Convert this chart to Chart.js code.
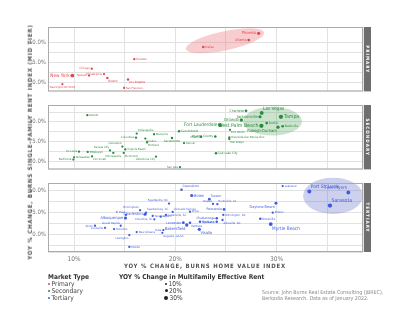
<!DOCTYPE html>
<html>
<head>
<meta charset="utf-8">
<script src="https://cdn.jsdelivr.net/npm/chart.js@4.4.1/dist/chart.umd.min.js"></script>
<style>
  body { margin: 0; width: 400px; height: 323px; background: #fff; position: relative; overflow: hidden;
         font-family: "Liberation Sans Narrow", "DejaVu Sans Condensed", "Roboto", sans-serif; }
  canvas { position: absolute; left: 0; }
  .t { position: absolute; white-space: nowrap; line-height: 1; }
  .axis-title { font-weight: bold; font-size: 6px; letter-spacing: 0.8px; color: #555; }
  .lg-head { font-weight: bold; font-size: 6.6px; color: #333; }
  .lg-item { font-size: 6.6px; color: #444; }
  .dot { display: inline-block; border-radius: 50%; vertical-align: middle; margin-right: 1.5px; position: relative; top: -0.5px; }
  .src { font-size: 5.3px; color: #8a8a8a; }
</style>
</head>
<body>
<canvas id="primary" width="375" height="78" style="top:19px"></canvas>
<canvas id="secondary" width="375" height="78" style="top:97px"></canvas>
<canvas id="tertiary" width="375" height="91" style="top:175px"></canvas>

<div class="t axis-title" style="left:30px;top:142px;transform:translate(-50%,-50%) rotate(-90deg)">YOY % CHANGE, BURNS SINGLE-FAMILY RENT INDEX (MID TIER)</div>
<div class="t axis-title" style="left:205px;top:266px;transform:translate(-50%,-50%)">YOY % CHANGE, BURNS HOME VALUE INDEX</div>

<div class="t lg-head" style="left:48px;top:274px">Market Type</div>
<div class="t lg-item" style="left:48px;top:281px"><span class="dot" style="width:2px;height:2px;background:#e4454c"></span>Primary</div>
<div class="t lg-item" style="left:48px;top:288px"><span class="dot" style="width:2px;height:2px;background:#2b8a3e"></span>Secondary</div>
<div class="t lg-item" style="left:48px;top:295px"><span class="dot" style="width:2px;height:2px;background:#3e5be0"></span>Tertiary</div>

<div class="t lg-head" style="left:119px;top:274px">YOY % Change in Multifamily Effective Rent</div>
<div class="t lg-item" style="left:165px;top:281px"><span class="dot" style="width:2px;height:2px;background:#222"></span>10%</div>
<div class="t lg-item" style="left:164.5px;top:288px"><span class="dot" style="width:3px;height:3px;background:#222"></span>20%</div>
<div class="t lg-item" style="left:164px;top:295px"><span class="dot" style="width:4px;height:4px;background:#222"></span>30%</div>

<div class="t src" style="left:262px;top:290px">Source: John Burns Real Estate Consulting (JBREC),</div>
<div class="t src" style="left:262px;top:296px">Berkadia Research. Data as of January 2022.</div>

<script>
// Primary markets
const primaryNames = ["New York", "Chicago", "Philadelphia", "Newark", "Boston", "Los Angeles",
  "Washington DC Metro", "San Francisco", "Houston", "Dallas", "Atlanta", "Phoenix"];
const primaryHomeValue = [9.83, 11.75, 12.96, 11.48, 13.29, 15.33, 8.85, 14.94, 15.95, 22.76, 27.25, 28.23];
const primaryRent = [1.67, 3.4, 2.05, 1.67, 1.1, 0.71, -0.48, -1.43, 5.8, 8.88, 10.6, 12.3];
const primaryMultifamily = [24, 10, 10, 10, 11, 11, 8, 9, 10, 12, 15, 19];

// Secondary markets
const secondaryNames = ["Detroit", "Indianapolis", "Columbus", "Memphis", "Omaha", "Portland", "San Antonio",
  "Sacramento", "Denver", "Cleveland", "Virginia Beach", "Kansas City", "Richmond", "Minneapolis", "St. Louis",
  "Pittsburgh", "Milwaukee", "Baltimore", "Cincinnati", "Oklahoma City", "San Jose", "Fort Lauderdale", "Miami",
  "Orange County", "Fort Worth", "Riverside-San Bernardino", "San Diego", "Salt Lake City", "Charlotte",
  "Las Vegas", "Jacksonville", "Tampa", "Orlando", "West Palm Beach", "Austin", "Raleigh-Durham", "Nashville"];
const secondaryHomeValue = [11.31, 16.19, 16.12, 17.9, 17.04, 17.21, 20.37, 19.67, 20.86, 14.77, 15.06, 13.55,
  14.91, 13.88, 10.49, 11.35, 10.0, 9.93, 11.78, 18.09, 20.46, 24.41, 22.54, 23.95, 25.4, 25.33, 25.33, 24.02,
  26.98, 28.53, 28.36, 30.43, 26.52, 28.5, 29.02, 30.14, 30.6];
const secondaryRent = [11.7, 7.02, 5.98, 6.85, 5.74, 4.77, 7.63, 5.88, 4.6, 3.7, 2.98, 2.74, 2.1, 2.1, 2.42,
  2.35, 0.97, 0.41, 1.21, 1.14, -1.53, 9.2, 6.22, 6.3, 7.99, 6.05, 5.64, 2.0, 12.83, 12.28, 11.3, 11.3, 10.48,
  9.0, 9.69, 8.64, 8.89];
const secondaryMultifamily = [10, 10, 10, 10, 10, 10, 12, 11, 10, 10, 10, 10, 10, 10, 10, 10, 10, 10, 10, 10,
  10, 24, 12, 12, 10, 10, 10, 12, 14, 24, 18, 28, 20, 28, 13, 19, 13];

// Tertiary markets
const tertiaryNames = ["Lakeland", "Port St. Lucie", "Fort Myers", "Sarasota", "Myrtle Beach", "Daytona Beach",
  "Killeen", "Knoxville", "Tucson", "Huntsville, AL", "Naples", "Pensacola", "Wilmington, NC", "Chattanooga",
  "Spokane", "Asheville, NC", "Greensboro", "Boise", "Fayetteville, NC", "Birmingham", "El Paso",
  "Spartanburg, SC", "Colorado Springs", "Charleston", "Albuquerque", "Tacoma", "Columbia, SC", "Ogden",
  "Greenville, SC", "Provo", "Lancaster", "Bakersfield", "Ventura", "Modesto", "Visalia", "Tulsa",
  "Augusta, GA-SC", "New Orleans", "Lexington", "Mobile", "Grand Rapids", "Honolulu", "Louisville", "Akron"];
const tertiaryHomeValue = [30.6, 33.23, 37.08, 35.27, 29.42, 29.94, 29.62, 28.39, 23.36, 24.15, 23.72, 24.81,
  24.74, 24.09, 24.09, 24.66, 20.61, 21.62, 19.38, 16.52, 15.13, 17.11, 19.74, 17.01, 15.08, 17.77, 17.93,
  18.56, 19.08, 21.45, 20.79, 21.13, 21.45, 22.44, 22.37, 18.82, 18.72, 16.19, 15.46, 15.46, 14.61, 13.95,
  13.06, 12.07];
const tertiaryRent = [11.0, 9.77, 9.54, 6.56, 2.36, 7.11, 4.95, 3.58, 8.03, 6.88, 6.95, 5.69, 4.43, 3.67, 2.89,
  3.28, 10.16, 8.85, 7.02, 5.5, 4.43, 4.95, 5.11, 4.59, 3.74, 4.2, 3.44, 4.04, 4.43, 5.18, 2.66, 2.13, 2.66,
  2.89, 1.15, 0.99, 0.37, 0.53, -0.16, -2.84, 1.97, 1.22, 1.51, 1.97];
const tertiaryMultifamily = [10, 25, 24, 28, 24, 16, 10, 12, 14, 10, 10, 14, 10, 12, 12, 10, 12, 18, 10, 10,
  10, 10, 10, 18, 18, 10, 10, 10, 10, 10, 14, 20, 12, 12, 18, 10, 10, 10, 10, 10, 10, 10, 10, 10];

// label placement around each dot: r, l, tr, tl, br, bl, b
const primarySide = ["l", "l", "l", "l", "br", "br", "b", "r", "r", "r", "l", "l"];
const secondarySide = ["r", "tr", "l", "r", "br", "br", "r", "b", "r", "tl", "r", "tl", "br", "b", "l", "r", "r",
  "l", "br", "bl", "l", "l", "l", "l", "br", "r", "br", "r", "l", "tr", "l", "r", "l", "l", "r", "bl", "r"];
const tertiarySide = ["r", "tr", "tl", "tr", "br", "bl", "r", "r", "tr", "tr", "tl", "l", "r", "l", "l", "br",
  "tr", "r", "tl", "tl", "tl", "tr", "tr", "l", "l", "r", "l", "r", "r", "r", "l", "bl", "br", "r", "br", "l",
  "br", "r", "bl", "r", "tl", "r", "l", "l"];

const FONT = '"Liberation Sans Narrow", "DejaVu Sans Condensed", "Roboto", sans-serif';

function dotSize(mf) { return 0.6 + mf * 0.055; }
function labelSize(mf) { return 1.6 + mf * 0.13; }

function decor(cfg) {
  return {
    id: 'decor',
    beforeDatasetsDraw(chart) {
      const { ctx, scales: { x, y } } = chart;
      const e = cfg.ellipse;
      const cx = x.getPixelForValue(e.cx), cy = y.getPixelForValue(e.cy);
      const rx = Math.abs(x.getPixelForValue(e.cx + e.rx) - cx);
      const ry = Math.abs(y.getPixelForValue(e.cy + e.ry) - cy);
      ctx.save();
      ctx.fillStyle = cfg.fill;
      ctx.beginPath();
      ctx.ellipse(cx, cy, rx, ry, e.rot * Math.PI / 180, 0, Math.PI * 2);
      ctx.fill();
      ctx.restore();
    },
    afterDatasetsDraw(chart) {
      const ctx = chart.ctx;
      const meta = chart.getDatasetMeta(0);
      ctx.save();
      ctx.fillStyle = cfg.color;
      ctx.textBaseline = 'middle';
      meta.data.forEach((pt, i) => {
        const fs = labelSize(cfg.mf[i]);
        const g = dotSize(cfg.mf[i]) + 0.8;
        let tx = pt.x, ty = pt.y, align = 'left';
        switch (cfg.side[i]) {
          case 'r': tx += g; break;
          case 'l': tx -= g; align = 'right'; break;
          case 'tr': tx += g * 0.5; ty -= g + fs * 0.35; break;
          case 'tl': tx -= g * 0.5; ty -= g + fs * 0.35; align = 'right'; break;
          case 'br': tx += g * 0.5; ty += g + fs * 0.35; break;
          case 'bl': tx -= g * 0.5; ty += g + fs * 0.35; align = 'right'; break;
          case 'b': ty += g + fs * 0.5; align = 'center'; break;
        }
        ctx.font = fs.toFixed(2) + 'px ' + FONT;
        ctx.textAlign = align;
        ctx.fillText(cfg.names[i], tx, ty);
      });
      ctx.restore();
    },
    afterDraw(chart) {
      const { ctx, chartArea: a } = chart;
      ctx.save();
      // panel frame
      ctx.strokeStyle = '#ababab';
      ctx.lineWidth = 1;
      ctx.strokeRect(a.left + 0.5, a.top + 0.5, a.right - a.left - 1, a.bottom - a.top - 1);
      // facet strip
      ctx.fillStyle = '#6e6e6e';
      ctx.fillRect(a.right + 1, a.top, 7, a.bottom - a.top);
      ctx.translate(a.right + 4.5, (a.top + a.bottom) / 2);
      ctx.rotate(Math.PI / 2);
      ctx.fillStyle = '#fff';
      ctx.font = 'bold 4.6px ' + FONT;
      ctx.letterSpacing = '1px';
      ctx.textAlign = 'center';
      ctx.textBaseline = 'middle';
      ctx.fillText(cfg.strip, 0, 0);
      ctx.restore();
    }
  };
}

function buildPanel(id, cfg) {
  const grid = { color: '#e2e2e2', lineWidth: 1, drawTicks: false };
  new Chart(document.getElementById(id), {
    type: 'scatter',
    data: {
      datasets: [{
        data: cfg.hv.map((v, i) => ({ x: v, y: cfg.rent[i] })),
        backgroundColor: cfg.color,
        borderWidth: 0,
        pointRadius: c => dotSize(cfg.mf[c.dataIndex])
      }]
    },
    options: {
      responsive: false,
      animation: false,
      events: [],
      layout: { padding: { top: 8, right: 12, bottom: 2, left: 0 } },
      plugins: { legend: { display: false }, tooltip: { enabled: false } },
      scales: {
        x: {
          type: 'linear', min: 7.43, max: 38.53,
          grid: grid, border: { display: false },
          ticks: {
            display: cfg.showX, stepSize: 5, autoSkip: false, padding: 3, color: '#777',
            font: { size: 6.5, family: FONT },
            callback: v => Math.abs(v % 10) < 1e-6 ? v + '%' : ''
          },
          afterFit: s => { s.height = cfg.showX ? 12 : 0; }
        },
        y: {
          min: cfg.yMin, max: cfg.yMax,
          grid: grid, border: { display: false },
          ticks: {
            stepSize: 2.5, autoSkip: false, padding: 2, color: '#777',
            font: { size: 6, family: FONT },
            callback: v => Math.abs(v % 5) < 1e-6 ? v.toFixed(1) + '%' : ''
          },
          afterFit: s => { s.width = 48; }
        }
      }
    },
    plugins: [decor(cfg)]
  });
}

buildPanel('primary', {
  names: primaryNames, hv: primaryHomeValue, rent: primaryRent, mf: primaryMultifamily, side: primarySide,
  color: '#e4454c', fill: 'rgba(234,112,120,0.35)', strip: 'PRIMARY',
  ellipse: { cx: 24.9, cy: 10.43, rx: 3.95, ry: 2.4, rot: -12 },
  yMin: -2.3, yMax: 13.9, showX: false
});
buildPanel('secondary', {
  names: secondaryNames, hv: secondaryHomeValue, rent: secondaryRent, mf: secondaryMultifamily, side: secondarySide,
  color: '#2b8a3e', fill: 'rgba(92,172,98,0.32)', strip: 'SECONDARY',
  ellipse: { cx: 29.6, cy: 10.17, rx: 2.91, ry: 3.63, rot: 0 },
  yMin: -2.1, yMax: 14.3, showX: false
});
buildPanel('tertiary', {
  names: tertiaryNames, hv: tertiaryHomeValue, rent: tertiaryRent, mf: tertiaryMultifamily, side: tertiarySide,
  color: '#3e5be0', fill: 'rgba(98,112,200,0.32)', strip: 'TERTIARY',
  ellipse: { cx: 35.57, cy: 8.78, rx: 2.96, ry: 4.13, rot: 0 },
  yMin: -4.0, yMax: 11.7, showX: true
});
</script>
</body>
</html>
